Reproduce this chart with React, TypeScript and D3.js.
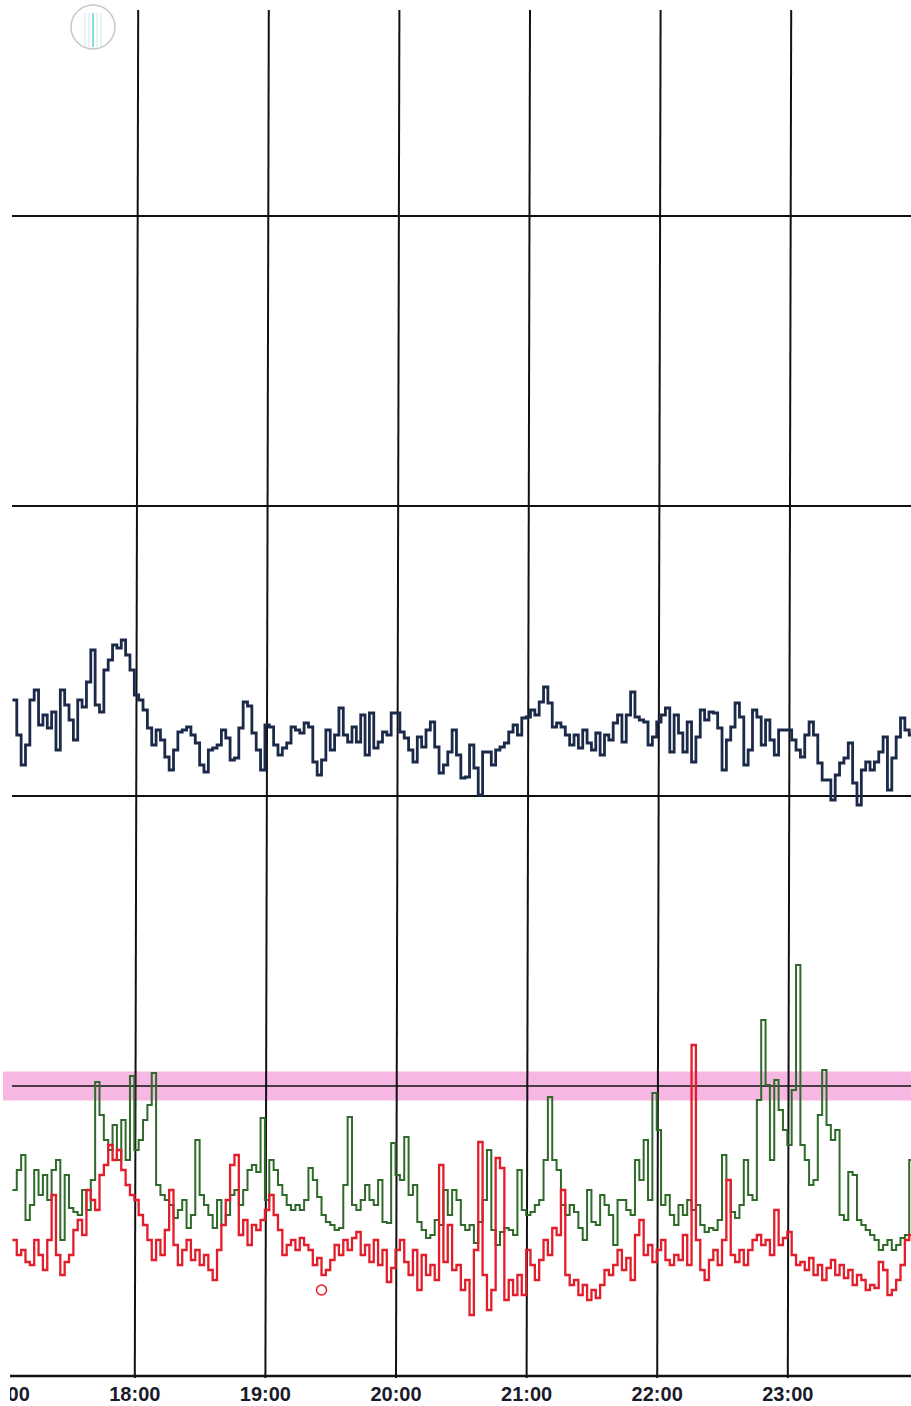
import * as d3 from "d3";
import { useMemo } from "react";

// one reading every 2 minutes, starting 17:03
const startTime = new Date(2000, 0, 1, 17, 3);
const stepMinutes = 2;

const hourTicks = ["17:00", "18:00", "19:00", "20:00", "21:00", "22:00", "23:00"];
const gridValues = [29, 58, 87, 116];
const limitValue = 29;

const upperTrace = [
  67.6, 64.1, 61.1, 63.1, 67.6, 68.6, 65.1, 66.1, 64.8, 66.4,
  62.6, 68.6, 67.1, 65.6, 63.6, 67.6, 66.9, 69.4, 72.6, 67.1,
  66.4, 70.6, 71.6, 73.1, 72.8, 73.6, 72.1, 70.6, 68.1, 67.6,
  66.6, 64.8, 63.1, 64.6, 63.6, 61.9, 60.6, 62.6, 64.4, 64.6,
  64.9, 64.1, 63.3, 61.1, 60.4, 62.6, 62.8, 63.1, 64.6, 63.8,
  61.6, 61.8, 64.8, 67.4, 67.0, 64.3, 62.6, 60.6, 65.1, 64.9,
  63.1, 62.1, 62.8, 63.3, 64.9, 64.6, 64.3, 65.3, 64.9, 61.4,
  60.1, 61.6, 64.6, 62.6, 64.1, 66.8, 64.1, 63.4, 64.9, 63.4,
  66.1, 62.1, 66.3, 62.8, 63.4, 64.4, 64.1, 66.3, 66.3, 64.4,
  63.8, 62.6, 61.4, 63.9, 62.9, 64.6, 65.4, 62.9, 60.3, 61.1,
  62.4, 64.6, 62.1, 59.8, 59.9, 63.1, 60.8, 58.1, 62.4, 62.4,
  61.1, 62.6, 62.9, 63.3, 64.4, 65.1, 64.1, 65.8, 65.9, 66.6,
  66.1, 67.4, 68.9, 67.3, 64.9, 65.3, 64.9, 64.1, 63.1, 64.1,
  62.8, 64.6, 63.3, 62.6, 64.3, 62.1, 64.1, 63.6, 65.3, 66.1,
  63.4, 66.1, 68.4, 65.9, 65.6, 65.4, 63.1, 63.9, 65.4, 66.1,
  66.8, 62.4, 66.1, 64.3, 62.4, 65.4, 61.4, 63.9, 66.6, 65.6,
  66.4, 66.3, 64.8, 60.6, 63.6, 64.9, 67.3, 65.9, 61.1, 62.6,
  66.6, 65.9, 63.1, 65.6, 63.6, 62.1, 64.6, 64.6, 64.6, 63.6,
  62.6, 61.9, 64.1, 65.4, 64.1, 61.3, 59.6, 59.6, 57.6, 60.1,
  61.3, 61.8, 63.3, 59.3, 57.1, 60.6, 61.4, 60.6, 61.4, 62.4,
  63.9, 58.6, 61.8, 63.9, 65.8, 64.6, 64.1, 63.8,
];

const greenTrace = [
  18.6, 20.6, 22.1, 15.6, 17.1, 20.6, 18.1, 20.1, 17.6, 20.6,
  21.6, 13.6, 20.1, 16.8, 16.4, 16.1, 18.6, 16.6, 19.6, 29.4,
  26.1, 23.6, 22.6, 25.1, 21.6, 25.6, 21.6, 30.0, 22.6, 23.6,
  25.6, 27.1, 30.3, 19.1, 18.1, 17.6, 17.1, 15.8, 16.6, 17.6,
  14.8, 16.1, 23.6, 18.1, 17.1, 16.1, 14.8, 17.6, 15.1, 16.1,
  18.1, 18.6, 17.1, 18.6, 20.6, 21.1, 20.4, 25.8, 17.6, 21.6,
  20.6, 19.1, 18.1, 17.1, 16.6, 17.1, 16.6, 17.6, 20.8, 19.6,
  17.9, 16.1, 15.4, 15.1, 14.6, 14.8, 19.1, 25.9, 17.1, 16.6,
  17.6, 19.1, 17.6, 17.1, 19.6, 15.4, 15.3, 23.3, 20.1, 19.6,
  23.9, 18.1, 19.1, 15.4, 14.6, 13.8, 14.1, 15.6, 15.1, 18.6,
  16.1, 18.6, 17.6, 15.1, 14.6, 15.1, 13.3, 15.4, 17.6, 22.6,
  14.6, 13.1, 14.4, 14.8, 14.6, 14.1, 20.6, 16.6, 16.1, 16.4,
  17.1, 17.6, 21.6, 27.9, 21.6, 20.6, 17.1, 16.1, 17.1, 16.4,
  14.8, 13.6, 18.6, 15.4, 15.1, 18.1, 17.1, 16.1, 13.1, 17.6,
  17.6, 16.6, 16.1, 21.6, 19.6, 23.6, 17.6, 28.3, 24.6, 17.1,
  18.1, 16.1, 15.1, 17.1, 16.1, 17.6, 16.6, 17.1, 15.1, 14.4,
  14.8, 14.6, 15.6, 22.1, 19.6, 16.4, 15.8, 17.1, 21.6, 18.1,
  17.6, 27.6, 35.6, 29.1, 21.6, 29.6, 26.6, 24.6, 23.1, 28.6,
  41.1, 23.1, 21.6, 19.1, 19.6, 26.1, 30.6, 25.1, 23.6, 24.6,
  16.1, 15.6, 20.4, 20.1, 15.6, 15.1, 14.6, 14.1, 13.6, 12.6,
  13.1, 13.6, 12.6, 13.1, 13.8, 14.1, 21.6, 21.1,
];

const redTrace = [
  13.6, 12.1, 12.6, 11.4, 11.1, 13.6, 12.1, 10.6, 13.6, 18.1,
  12.1, 10.1, 11.4, 12.1, 14.6, 15.6, 14.1, 18.6, 17.6, 16.6,
  20.1, 21.1, 23.1, 21.6, 22.6, 20.6, 19.1, 18.1, 17.6, 16.1,
  15.1, 13.6, 11.6, 13.6, 12.1, 14.6, 18.6, 13.1, 11.1, 12.6,
  13.6, 11.6, 12.6, 11.1, 12.1, 10.6, 9.6, 12.6, 15.1, 17.6,
  21.1, 22.1, 14.1, 15.6, 13.1, 15.1, 14.6, 15.6, 16.6, 18.1,
  16.1, 14.6, 12.1, 13.1, 13.6, 12.6, 13.8, 13.1, 12.6, 11.1,
  11.8, 10.1, 10.6, 11.6, 13.1, 12.1, 13.6, 12.6, 13.8, 14.4,
  12.1, 13.1, 11.4, 13.6, 11.1, 12.6, 9.4, 10.8, 12.6, 13.6,
  11.4, 10.1, 12.6, 8.6, 12.1, 10.1, 11.1, 9.6, 21.1, 11.4,
  15.1, 10.6, 11.1, 8.6, 9.6, 6.1, 12.6, 23.4, 10.1, 6.6,
  8.6, 21.8, 20.8, 7.6, 9.6, 8.1, 10.1, 8.1, 12.6, 11.1,
  9.6, 11.6, 13.6, 12.1, 14.8, 14.1, 18.6, 10.1, 9.1, 9.6,
  8.1, 9.1, 7.6, 8.6, 7.8, 9.1, 10.6, 10.1, 11.1, 12.6,
  10.6, 11.8, 9.6, 14.1, 15.6, 12.1, 13.1, 11.4, 12.6, 13.6,
  11.6, 11.1, 12.1, 11.6, 14.1, 11.1, 33.1, 13.6, 10.6, 9.6,
  11.6, 12.6, 11.1, 13.6, 19.6, 12.1, 11.4, 12.6, 11.1, 12.6,
  13.6, 14.1, 13.1, 13.6, 12.1, 16.6, 13.1, 13.8, 14.4, 12.1,
  11.1, 11.4, 10.6, 11.8, 10.1, 11.1, 9.6, 10.8, 11.6, 10.1,
  11.1, 9.8, 10.6, 9.1, 10.1, 9.6, 8.6, 9.1, 8.8, 11.4,
  10.6, 8.1, 8.6, 9.6, 11.1, 13.6, 14.1, 15.1,
];

const width = 911;
const height = 1406;

type Pt = { t: Date; v: number };

const toPoints = (vals: number[]): Pt[] =>
  vals.map((v, i) => ({ t: d3.timeMinute.offset(startTime, i * stepMinutes), v }));

export default function App() {
  const x = d3
    .scaleTime()
    .domain([new Date(2000, 0, 1, 17, 0), new Date(2000, 0, 1, 24, 0)])
    .range([5.9, 920.1]);
  const y = d3.scaleLinear().domain([0, 136.6]).range([1376, 10]);

  const line = d3
    .line<Pt>()
    .x((d) => x(d.t))
    .y((d) => y(d.v))
    .curve(d3.curveStepAfter);

  const paths = useMemo(
    () => ({
      upper: line(toPoints(upperTrace)) ?? "",
      green: line(toPoints(greenTrace)) ?? "",
      red: line(toPoints(redTrace)) ?? "",
    }),
    []
  );

  const hours = hourTicks.map((lab) => {
    const [h, m] = lab.split(":").map(Number);
    return { lab, t: new Date(2000, 0, 1, h, m) };
  });

  // the scanned sheet is a touch skewed: hour lines lean right towards the top
  const skew = 1.7;

  return (
    <svg
      width={width}
      height={height}
      style={{ position: "absolute", left: 0, top: 0, background: "#fff" }}
    >
      <defs>
        <clipPath id="labelClip">
          <rect x={10} y={1376} width={width - 10} height={30} />
        </clipPath>
      </defs>

      {/* highlighted limit band */}
      <rect
        x={3}
        y={y(limitValue + 1.45)}
        width={width - 3}
        height={y(limitValue - 1.45) - y(limitValue + 1.45)}
        fill="#f6b7e3"
      />

      {/* horizontal grid */}
      {gridValues.map((g) => (
        <line
          key={g}
          x1={12}
          x2={width}
          y1={y(g)}
          y2={y(g)}
          stroke="#111"
          strokeWidth={g === limitValue ? 1.6 : 1.8}
        />
      ))}

      {/* vertical hour grid */}
      {hours.slice(1).map((h) => (
        <line
          key={h.lab}
          x1={x(h.t) + skew}
          x2={x(h.t) - skew}
          y1={y(136.6)}
          y2={y(0) + 2}
          stroke="#111"
          strokeWidth={2}
        />
      ))}

      {/* time axis */}
      <line x1={10} x2={width} y1={y(0)} y2={y(0)} stroke="#111" strokeWidth={2.4} />
      <g clipPath="url(#labelClip)">
        {hours.map((h) => (
          <text
            key={h.lab}
            x={x(h.t) - skew}
            y={1401}
            textAnchor="middle"
            fontFamily="Liberation Sans, Arial, sans-serif"
            fontWeight="bold"
            fontSize={20}
            fill="#1a1a2a"
          >
            {h.lab}
          </text>
        ))}
      </g>

      {/* traces */}
      <path d={paths.upper} fill="none" stroke="#1c2a4a" strokeWidth={2.8} />
      <path d={paths.green} fill="none" stroke="#2f6a2a" strokeWidth={2} />
      <path d={paths.red} fill="none" stroke="#e41d2b" strokeWidth={2.3} />

      {/* pen mark on the red trace */}
      <circle
        cx={x(new Date(2000, 0, 1, 19, 25))}
        cy={y(8.6)}
        r={5}
        fill="none"
        stroke="#e41d2b"
        strokeWidth={1.5}
      />

      {/* punch hole in the scanned sheet */}
      <circle
        cx={x(new Date(2000, 0, 1, 17, 40))}
        cy={y(134.9)}
        r={22}
        fill="none"
        stroke="#c8c8c8"
        strokeWidth={1.5}
      />
      {[-8, -4, 0, 4, 8].map((dx) => (
        <line
          key={dx}
          x1={x(new Date(2000, 0, 1, 17, 40)) + dx}
          x2={x(new Date(2000, 0, 1, 17, 40)) + dx}
          y1={y(136.3)}
          y2={y(132.9)}
          stroke={dx === 0 ? "#4fd0e0" : "#cfe6ea"}
          strokeWidth={dx === 0 ? 1.4 : 1}
        />
      ))}
    </svg>
  );
}
